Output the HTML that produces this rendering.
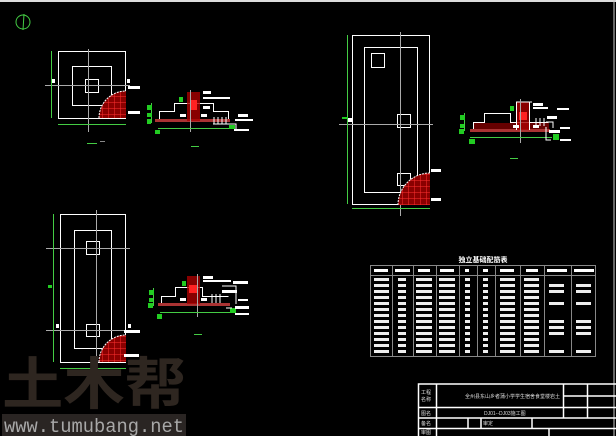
<!DOCTYPE html>
<html><head><meta charset="utf-8"><style>
html,body{margin:0;padding:0;background:#000;}
svg{display:block;}
</style></head><body>
<svg width="616" height="436" viewBox="0 0 616 436" xmlns="http://www.w3.org/2000/svg" font-family="Liberation Sans, Noto Sans CJK SC, sans-serif">
<defs>
<clipPath id="q1"><path d="M126,118 L99,118 A27,27 0 0 1 126,91 Z"/></clipPath>
<clipPath id="q2"><path d="M430,205 L398,205 A32,32 0 0 1 430,173 Z"/></clipPath>
<clipPath id="q3"><path d="M126,362 L99,362 A27,27 0 0 1 126,335 Z"/></clipPath>
<pattern id="hatch" width="6" height="6" patternUnits="userSpaceOnUse"><rect width="6" height="6" fill="#8a0000"/><path d="M0,0H6M0,0V6" stroke="#ff3030" stroke-width="1"/></pattern>
</defs>
<rect width="616" height="436" fill="#000"/>
<line x1="0" y1="1" x2="616" y2="1" stroke="#ddd" stroke-width="2"/>
<line x1="614" y1="0" x2="614" y2="436" stroke="#ccc" stroke-width="1"/>

<!-- north symbol -->
<circle cx="23" cy="22" r="7" fill="none" stroke="#4c4" stroke-width="1"/>
<line x1="24" y1="14" x2="23" y2="30" stroke="#4c4"/>

<!-- Plan 1 -->
<g fill="none" stroke="#fff" stroke-width="1">
<rect x="58.5" y="51.5" width="67" height="67"/>
<rect x="72.5" y="66.5" width="39" height="39"/>
<rect x="85.5" y="79.5" width="13" height="13"/>
</g>
<line x1="88.5" y1="49" x2="88.5" y2="132" stroke="#aaa"/>
<line x1="45" y1="85.5" x2="130" y2="85.5" stroke="#aaa"/>
<rect x="99" y="91" width="27" height="27" fill="url(#hatch)" clip-path="url(#q1)"/>
<path d="M99,118 A27,27 0 0 1 126,91" fill="none" stroke="#fff" stroke-dasharray="2,1"/>
<g stroke="#4c4" fill="none"><line x1="51.5" y1="51" x2="51.5" y2="118"/><line x1="58" y1="124.5" x2="126" y2="124.5"/></g>
<g fill="#fff"><rect x="128" y="86" width="12" height="3"/><rect x="128" y="111" width="12" height="3"/><rect x="52" y="79" width="3" height="4"/><rect x="127" y="79" width="3" height="4"/></g>
<rect x="87" y="143" width="10" height="1" fill="#4c4"/><rect x="100" y="141" width="5" height="1" fill="#888"/>

<!-- Section 1 -->
<g fill="none" stroke="#fff">
<path d="M159.5,120.5 V111.5 H174.5 V103.5 H213.5 V111.5 H228.5 V120.5"/>
</g>
<rect x="155" y="119" width="75" height="3" fill="#a33"/>
<rect x="187" y="92" width="13" height="29" fill="#a00" opacity="0.8"/>
<rect x="191" y="100" width="6" height="10" fill="#f22"/>
<line x1="190.5" y1="90" x2="190.5" y2="132" stroke="#aaa"/>
<g stroke="#4c4" fill="none"><line x1="151.5" y1="103" x2="151.5" y2="123"/><line x1="158" y1="128.5" x2="230" y2="128.5"/></g>
<g fill="#2c2"><rect x="147" y="105" width="5" height="5"/><rect x="147" y="113" width="5" height="4"/><rect x="147" y="119" width="4" height="5"/><rect x="179" y="97" width="4" height="5"/><rect x="155" y="130" width="5" height="4"/><rect x="229" y="125" width="6" height="4"/></g>
<g fill="#fff"><rect x="203" y="91" width="8" height="3"/><rect x="203" y="97" width="27" height="2"/><rect x="203" y="106" width="7" height="3"/><rect x="180" y="114" width="6" height="3"/><rect x="201" y="114" width="6" height="3"/><rect x="238" y="114" width="10" height="3"/><rect x="235" y="119" width="18" height="2"/><rect x="234" y="129" width="15" height="2"/></g>
<path d="M214,117 V124 M218,117 V124 M222,117 V124 M226,117 V124 M213,124 H236 V131" stroke="#fff" fill="none"/>
<rect x="191" y="146" width="8" height="1" fill="#4c4"/>

<!-- Plan 2 (top right) -->
<g fill="none" stroke="#fff">
<rect x="352.5" y="35.5" width="77" height="169"/>
<rect x="364.5" y="47.5" width="53" height="145"/>
<rect x="371.5" y="53.5" width="13" height="14"/>
<rect x="397.5" y="114.5" width="13" height="13"/>
<rect x="397.5" y="173.5" width="13" height="12"/>
</g>
<line x1="400.5" y1="32" x2="400.5" y2="216" stroke="#aaa"/>
<line x1="339" y1="124.5" x2="433" y2="124.5" stroke="#aaa"/>
<rect x="398" y="173" width="32" height="32" fill="url(#hatch)" clip-path="url(#q2)"/>
<path d="M398,205 A32,32 0 0 1 430,173" fill="none" stroke="#fff" stroke-dasharray="2,1"/>
<g stroke="#4c4" fill="none"><line x1="347.5" y1="35" x2="347.5" y2="204"/><line x1="352" y1="208.5" x2="430" y2="208.5"/></g>
<g fill="#fff"><rect x="431" y="169" width="10" height="3"/><rect x="431" y="198" width="10" height="3"/><rect x="348" y="118" width="4" height="4"/></g>
<rect x="342" y="117" width="6" height="2" fill="#2c2"/>
<rect x="510" y="158" width="8" height="1" fill="#4c4"/>

<!-- Section 2 -->
<path d="M473.5,130.5 V122.5 H484.5 V113.5 H510.5 V122.5 H548.5" fill="none" stroke="#fff"/>
<rect x="474" y="123" width="75" height="7" fill="#600"/>
<rect x="470" y="129" width="80" height="3" fill="#a33"/>
<rect x="517" y="102" width="12" height="28" fill="#a00" opacity="0.8"/>
<rect x="519" y="112" width="8" height="8" fill="#f22"/>
<path d="M516.5,102 V130 M529.5,102 V130 M516,102 H532" stroke="#fff" fill="none"/>
<line x1="520.5" y1="99" x2="520.5" y2="143" stroke="#aaa"/>
<g stroke="#4c4" fill="none"><line x1="464.5" y1="113" x2="464.5" y2="131"/><line x1="470" y1="137.5" x2="552" y2="137.5"/></g>
<g fill="#2c2"><rect x="460" y="115" width="5" height="5"/><rect x="460" y="124" width="4" height="4"/><rect x="459" y="129" width="5" height="5"/><rect x="510" y="106" width="4" height="5"/><rect x="469" y="139" width="6" height="5"/><rect x="553" y="134" width="6" height="6"/></g>
<g fill="#fff"><rect x="533" y="103" width="10" height="3"/><rect x="533" y="107" width="15" height="2"/><rect x="557" y="108" width="12" height="2"/><rect x="547" y="116" width="10" height="3"/><rect x="513" y="125" width="6" height="3"/><rect x="533" y="125" width="6" height="3"/><rect x="560" y="127" width="10" height="2"/><rect x="549" y="130" width="11" height="3"/><rect x="560" y="139" width="11" height="2"/></g>
<path d="M536,118 V126 M540,118 V126 M544,118 V126 M546,122 H553 V128 M546,127 V140 H551" stroke="#fff" fill="none"/>

<!-- Plan 3 (bottom left) -->
<g fill="none" stroke="#fff">
<rect x="60.5" y="214.5" width="65" height="148"/>
<rect x="74.5" y="230.5" width="37" height="118"/>
<rect x="86.5" y="241.5" width="13" height="13"/>
<rect x="86.5" y="324.5" width="13" height="12"/>
</g>
<line x1="96.5" y1="210" x2="96.5" y2="375" stroke="#aaa"/>
<line x1="46" y1="248.5" x2="130" y2="248.5" stroke="#aaa"/>
<line x1="46" y1="330.5" x2="130" y2="330.5" stroke="#aaa"/>
<rect x="99" y="335" width="27" height="27" fill="url(#hatch)" clip-path="url(#q3)"/>
<path d="M99,362 A27,27 0 0 1 126,335" fill="none" stroke="#fff" stroke-dasharray="2,1"/>
<g stroke="#4c4" fill="none"><line x1="53.5" y1="214" x2="53.5" y2="362"/><line x1="60" y1="368.5" x2="126" y2="368.5"/></g>
<g fill="#fff"><rect x="124" y="330" width="16" height="3"/><rect x="124" y="354" width="15" height="3"/><rect x="56" y="324" width="3" height="4"/><rect x="128" y="324" width="3" height="4"/></g>
<rect x="48" y="285" width="4" height="3" fill="#2c2"/>
<rect x="194" y="334" width="8" height="1" fill="#4c4"/>

<!-- Section 3 -->
<path d="M161.5,304.5 V296.5 H175.5 V287.5 H202.5 V296.5 H228.5" fill="none" stroke="#fff"/>
<rect x="158" y="303" width="72" height="3" fill="#a33"/>
<rect x="187" y="276" width="13" height="28" fill="#a00" opacity="0.8"/>
<rect x="189" y="285" width="8" height="8" fill="#f22"/>
<line x1="197.5" y1="274" x2="197.5" y2="317" stroke="#aaa"/>
<g stroke="#4c4" fill="none"><line x1="153.5" y1="288" x2="153.5" y2="306"/><line x1="160" y1="312.5" x2="232" y2="312.5"/></g>
<g fill="#2c2"><rect x="149" y="290" width="5" height="5"/><rect x="149" y="298" width="4" height="4"/><rect x="148" y="303" width="5" height="5"/><rect x="182" y="281" width="4" height="5"/><rect x="157" y="314" width="5" height="5"/><rect x="230" y="308" width="6" height="5"/></g>
<g fill="#fff"><rect x="203" y="276" width="10" height="3"/><rect x="203" y="280" width="28" height="2"/><rect x="233" y="281" width="15" height="3"/><rect x="222" y="290" width="15" height="3"/><rect x="180" y="298" width="6" height="3"/><rect x="201" y="298" width="6" height="3"/><rect x="238" y="299" width="10" height="2"/><rect x="235" y="306" width="14" height="3"/><rect x="235" y="313" width="14" height="2"/></g>
<path d="M212,294 V303 M216,294 V303 M220,294 V303 M222,286 H236 V304 M226,308 H232" stroke="#fff" fill="none"/>

<!-- Table -->
<text x="483" y="262" font-size="7" font-weight="bold" fill="#fff" text-anchor="middle">独立基础配筋表</text>
<g stroke="#888" fill="none">
<rect x="370.5" y="265.5" width="225" height="91"/>
<line x1="370" y1="275.5" x2="596" y2="275.5"/>
<path d="M392.5,265V357 M413.5,265V357 M436.5,265V357 M459.5,265V357 M477.5,265V357 M495.5,265V357 M520.5,265V357 M544.5,265V357 M571.5,265V357"/>
</g>
<g fill="#fff">
<rect x="374" y="269" width="14" height="3"/><rect x="395" y="269" width="15" height="3"/><rect x="418" y="269" width="12" height="3"/><rect x="440" y="269" width="14" height="3"/><rect x="465" y="269" width="4" height="3"/><rect x="483" y="269" width="5" height="3"/><rect x="500" y="269" width="14" height="3"/><rect x="526" y="269" width="12" height="3"/><rect x="547" y="269" width="20" height="3"/><rect x="574" y="269" width="20" height="3"/>
</g>
<g fill="#ddd" opacity="0.9">
<rect x="374" y="278" width="15" height="76" fill="url(#rows)"/>
</g>
<defs><pattern id="rows" width="4" height="6" patternUnits="userSpaceOnUse" y="278"><rect width="4" height="3" fill="#eee"/></pattern></defs>
<g fill="url(#rows)">
<rect x="374" y="278" width="15" height="77"/><rect x="398" y="278" width="8" height="77"/><rect x="416" y="278" width="16" height="77"/><rect x="439" y="278" width="16" height="77"/><rect x="465" y="278" width="5" height="77"/><rect x="483" y="278" width="5" height="77"/><rect x="500" y="278" width="15" height="77"/><rect x="524" y="278" width="15" height="77"/>
<rect x="549" y="284" width="15" height="11"/><rect x="576" y="284" width="15" height="11"/><rect x="549" y="302" width="15" height="5"/><rect x="576" y="302" width="15" height="5"/><rect x="549" y="320" width="15" height="18"/><rect x="576" y="320" width="15" height="18"/><rect x="549" y="350" width="15" height="5"/><rect x="576" y="350" width="15" height="5"/>
</g>

<!-- Title block -->
<g stroke="#fff" fill="none" stroke-width="1.5">
<rect x="418.5" y="384" width="200" height="60"/>
<line x1="418" y1="407.5" x2="616" y2="407.5"/>
<line x1="418" y1="418" x2="616" y2="418"/>
<line x1="418" y1="428.5" x2="616" y2="428.5"/>
<line x1="436.5" y1="384" x2="436.5" y2="436"/>
<line x1="563.5" y1="384" x2="563.5" y2="418"/>
<line x1="587.5" y1="384" x2="587.5" y2="418"/>
<line x1="563" y1="396" x2="616" y2="396"/>
<line x1="468" y1="418" x2="468" y2="428"/>
<line x1="481" y1="418" x2="481" y2="428"/>
<line x1="532" y1="418" x2="532" y2="428"/>
<line x1="549" y1="428" x2="549" y2="436"/>
</g>
<g fill="#ddd" font-size="5">
<text x="421" y="394">工程</text><text x="421" y="401">名称</text>
<text x="421" y="415">图名</text><text x="421" y="425">备名</text><text x="421" y="434">审图</text>
<text x="465" y="398">全州县东山乡者蒲小学学生宿舍食堂楼岩土</text>
<text x="484" y="415">DJ01--DJ03施工图</text>
<text x="483" y="425">审定</text>
</g>

<!-- Watermark -->
<text x="2" y="404" font-size="56" font-weight="bold" fill="#2e2620" textLength="184" lengthAdjust="spacingAndGlyphs" font-family="Liberation Sans, Noto Sans CJK SC, sans-serif">土木帮</text>
<rect x="2" y="414" width="184" height="22" fill="#2a2523"/>
<text x="4" y="432" font-size="19" fill="#a8a8a8" font-family="Liberation Mono, monospace" textLength="180" lengthAdjust="spacingAndGlyphs">www.tumubang.net</text>
</svg>
</body></html>
